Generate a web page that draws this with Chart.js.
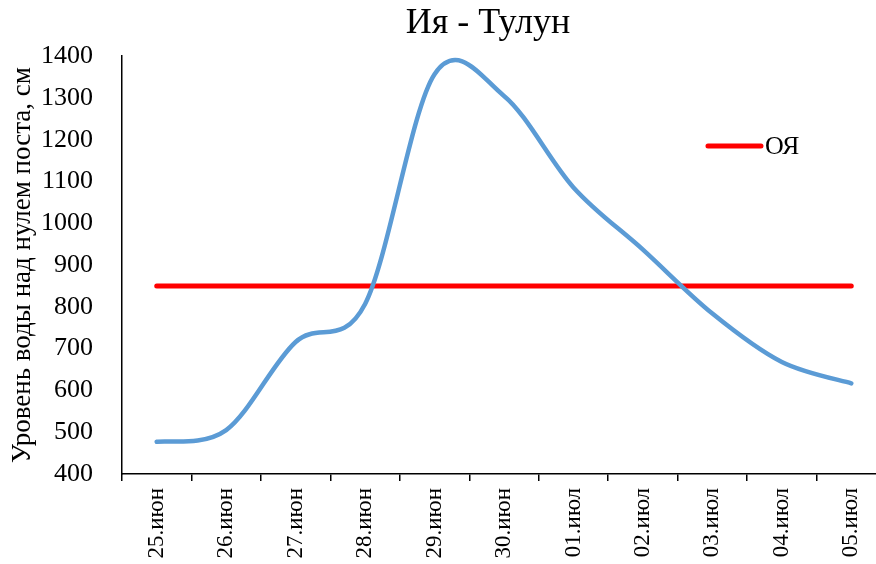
<!doctype html>
<html lang="ru">
<head>
    <meta charset="utf-8">
    <title>Ия - Тулун</title>
    <script src="https://cdn.jsdelivr.net/npm/chart.js@4.4.0/dist/chart.umd.min.js"></script>
    <style>
        html, body { margin: 0; padding: 0; background: #fff; overflow: hidden; }
        #wrap { width: 886px; height: 564px; }
    </style>
</head>
<body>
<div id="wrap">
    <canvas id="chart"></canvas>
</div>
<script>
    // dates and water level, cm
    const days = ['25.июн', '26.июн', '27.июн', '28.июн', '29.июн', '30.июн',
        '01.июл', '02.июл', '03.июл', '04.июл', '05.июл'];
    const waterLevel = [477, 505, 716, 807, 1357, 1305, 1086, 937, 784, 668, 617];
    const ojaLevel = [850, 850, 850, 850, 850, 850, 850, 850, 850, 850, 850];
    const yTicks = [400, 500, 600, 700, 800, 900, 1000, 1100, 1200, 1300, 1400];

    const serif = 'Liberation Serif';

    // excel-like smoothing: uniform catmull-rom control points
    const excelSmooth = {
        id: 'excelSmooth',
        beforeDatasetDraw(chart, args) {
            const meta = args.meta;
            if (meta.index !== 0) return;
            const line = meta.dataset;
            line.updateControlPoints(chart.chartArea);
            const pts = meta.data;
            for (let i = 0; i < pts.length; i++) {
                const prev = pts[Math.max(i - 1, 0)];
                const next = pts[Math.min(i + 1, pts.length - 1)];
                const dx = (next.x - prev.x) / 6;
                const dy = (next.y - prev.y) / 6;
                pts[i].cp1x = pts[i].x - dx;
                pts[i].cp1y = pts[i].y - dy;
                pts[i].cp2x = pts[i].x + dx;
                pts[i].cp2y = pts[i].y + dy;
            }
        }
    };

    // title in the source sits right of centre
    const shiftTitle = {
        id: 'shiftTitle',
        afterLayout(chart) {
            if (chart.titleBlock) chart.titleBlock.left += 90;
        }
    };

    // small legend inside the plot, only for the ОЯ line
    const insideLegend = {
        id: 'insideLegend',
        afterDraw(chart) {
            const ctx = chart.ctx;
            const a = chart.chartArea;
            const ds = chart.data.datasets[1];
            const x0 = a.left + (a.right - a.left) * 0.767;
            const y0 = a.top + (a.bottom - a.top) * 0.215;
            ctx.save();
            ctx.strokeStyle = ds.borderColor;
            ctx.lineWidth = 5;
            ctx.lineCap = 'round';
            ctx.beginPath();
            ctx.moveTo(x0, y0);
            ctx.lineTo(x0 + 53, y0);
            ctx.stroke();
            ctx.fillStyle = '#000';
            ctx.font = '26px "' + serif + '"';
            ctx.textBaseline = 'middle';
            ctx.fillText(ds.label, x0 + 57, y0 + 1);
            ctx.restore();
        }
    };

    new Chart(document.getElementById('chart'), {
        type: 'line',
        data: {
            labels: days,
            datasets: [{
                label: 'Уровень',
                data: waterLevel,
                borderColor: '#5b9bd5',
                borderWidth: 4.5,
                borderCapStyle: 'round',
                pointRadius: 0,
                tension: 0.4,
                fill: false
            }, {
                label: 'ОЯ',
                data: ojaLevel,
                borderColor: '#ff0000',
                borderWidth: 5,
                borderCapStyle: 'round',
                pointRadius: 0,
                tension: 0,
                fill: false
            }]
        },
        options: {
            responsive: true,
            maintainAspectRatio: false,
            animation: false,
            layout: { padding: { left: 0, right: 0, top: 0, bottom: 0 } },
            plugins: {
                legend: { display: false },
                tooltip: { enabled: false },
                title: {
                    display: true,
                    text: 'Ия - Тулун',
                    color: '#000',
                    font: { family: serif, size: 36, weight: 'normal' },
                    padding: { top: 2, bottom: 11 }
                }
            },
            scales: {
                x: {
                    offset: true,
                    afterFit: function (scale) { scale.height = 90; },
                    grid: {
                        offset: true,
                        drawOnChartArea: false,
                        drawTicks: true,
                        tickLength: 7,
                        color: '#000',
                        lineWidth: 1.5
                    },
                    border: { display: true, color: '#000', width: 1.5 },
                    ticks: {
                        color: '#000',
                        minRotation: 90,
                        maxRotation: 90,
                        autoSkip: false,
                        padding: 7,
                        font: { family: serif, size: 23 }
                    }
                },
                y: {
                    min: 400,
                    max: 1400,
                    afterFit: function (scale) { scale.width = 122; },
                    afterBuildTicks: function (scale) {
                        scale.ticks = yTicks.map(v => ({ value: v }));
                    },
                    grid: { display: false },
                    border: { display: true, color: '#000', width: 1.5 },
                    ticks: {
                        color: '#000',
                        padding: 21,
                        font: { family: serif, size: 26 },
                        callback: function (value) { return String(value); }
                    },
                    title: {
                        display: true,
                        text: 'Уровень воды над нулем поста, см',
                        color: '#000',
                        font: { family: serif, size: 27 },
                        padding: { top: 7, bottom: 0 }
                    }
                }
            }
        },
        plugins: [excelSmooth, shiftTitle, insideLegend]
    });
</script>
</body>
</html>
